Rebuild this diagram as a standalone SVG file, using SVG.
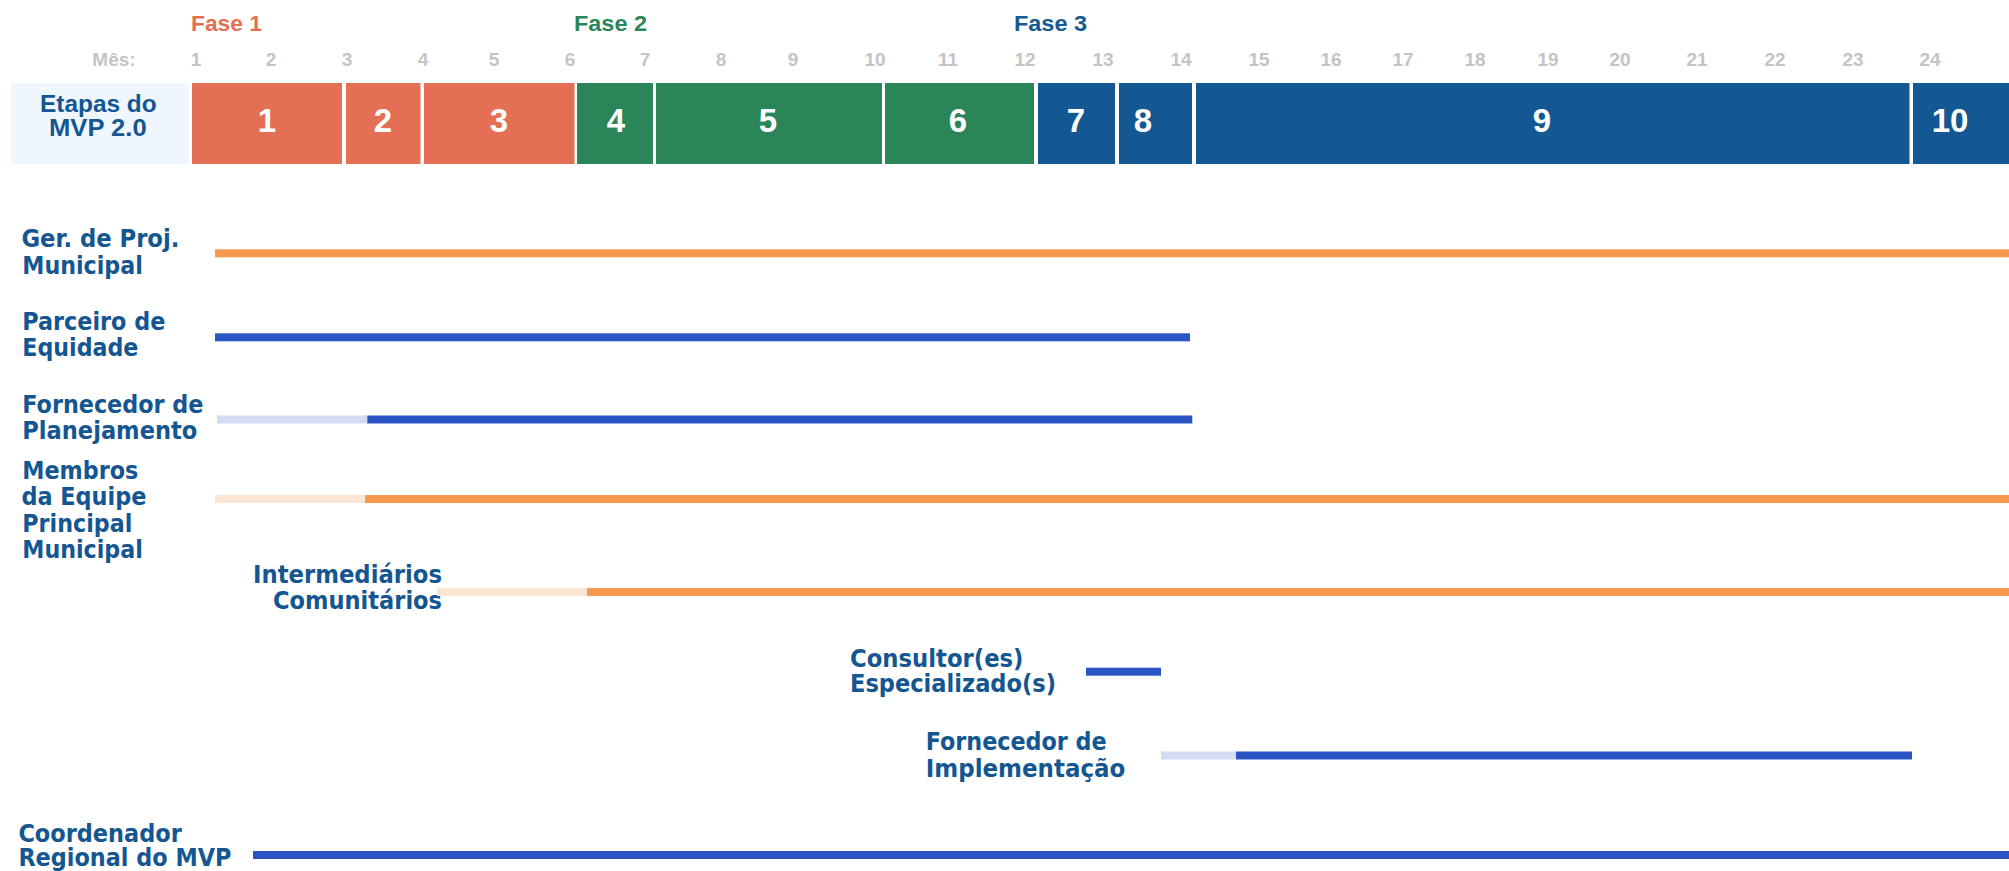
<svg xmlns="http://www.w3.org/2000/svg" width="2009" height="871" viewBox="0 0 2009 871">
<style>
.hd{font-family:"Liberation Sans",Arial,sans-serif;font-weight:bold}
.fase{font-size:22.5px}
.mes{font-size:19px;fill:#c4c4c4;text-anchor:middle}
.num{font-size:33px;fill:#ffffff;text-anchor:middle}
.lbl{font-family:"DejaVu Sans",Verdana,sans-serif;font-weight:bold;font-size:24px;fill:#145691}
.f1{fill:#e56f55}.f2{fill:#2a8659}.f3{fill:#135892}
.or{fill:#f89a4e}.orl{fill:#fde5d3}.bl{fill:#2b55c4}.bll{fill:#d4dcf4}
</style>
<rect width="2009" height="871" fill="#ffffff"/>

<g id="phases" class="hd fase">
<text x="191" y="31" class="f1" textLength="71" lengthAdjust="spacingAndGlyphs">Fase 1</text>
<text x="574" y="31" class="f2" textLength="73" lengthAdjust="spacingAndGlyphs">Fase 2</text>
<text x="1014" y="31" class="f3" textLength="73" lengthAdjust="spacingAndGlyphs">Fase 3</text>
</g>

<g id="months" class="hd mes">
<text x="114" y="66">Mês:</text>
<text x="196" y="66">1</text>
<text x="271" y="66">2</text>
<text x="347" y="66">3</text>
<text x="423" y="66">4</text>
<text x="494" y="66">5</text>
<text x="570" y="66">6</text>
<text x="645" y="66">7</text>
<text x="721" y="66">8</text>
<text x="793" y="66">9</text>
<text x="875" y="66">10</text>
<text x="948" y="66">11</text>
<text x="1025" y="66">12</text>
<text x="1103" y="66">13</text>
<text x="1181" y="66">14</text>
<text x="1259" y="66">15</text>
<text x="1331" y="66">16</text>
<text x="1403" y="66">17</text>
<text x="1475" y="66">18</text>
<text x="1548" y="66">19</text>
<text x="1620" y="66">20</text>
<text x="1697" y="66">21</text>
<text x="1775" y="66">22</text>
<text x="1853" y="66">23</text>
<text x="1930" y="66">24</text>
</g>

<g id="etapas-label">
<rect x="11" y="83" width="178" height="81" fill="#f0f6fe"/>
<text class="hd" x="40" y="111.5" font-size="24.5" fill="#145691" textLength="116.7" lengthAdjust="spacingAndGlyphs">Etapas do</text>
<text class="hd" x="49" y="136" font-size="24.5" fill="#145691" textLength="97.7" lengthAdjust="spacingAndGlyphs">MVP 2.0</text>
</g>

<g id="stage-1"><rect x="192" y="83" width="150" height="81" class="f1"/><text class="hd num" x="267" y="132">1</text></g>
<g id="stage-2"><rect x="346" y="83" width="74.5" height="81" class="f1"/><text class="hd num" x="383" y="132">2</text></g>
<g id="stage-3"><rect x="424" y="83" width="150.5" height="81" class="f1"/><text class="hd num" x="499" y="132">3</text></g>
<g id="stage-4"><rect x="577" y="83" width="76" height="81" class="f2"/><text class="hd num" x="616" y="132">4</text></g>
<g id="stage-5"><rect x="656" y="83" width="226" height="81" class="f2"/><text class="hd num" x="768" y="132">5</text></g>
<g id="stage-6"><rect x="885" y="83" width="149" height="81" class="f2"/><text class="hd num" x="958" y="132">6</text></g>
<g id="stage-7"><rect x="1038" y="83" width="77" height="81" class="f3"/><text class="hd num" x="1076" y="132">7</text></g>
<g id="stage-8"><rect x="1119" y="83" width="73" height="81" class="f3"/><text class="hd num" x="1143" y="132">8</text></g>
<g id="stage-9"><rect x="1196" y="83" width="713.5" height="81" class="f3"/><text class="hd num" x="1542" y="132">9</text></g>
<g id="stage-10"><rect x="1913" y="83" width="96" height="81" class="f3"/><text class="hd num" x="1950" y="132">10</text></g>

<g id="row-ger-proj">
<text class="lbl" x="21.4" y="247" textLength="158" lengthAdjust="spacingAndGlyphs">Ger. de Proj.</text>
<text class="lbl" x="22.3" y="273.5" textLength="120.5" lengthAdjust="spacingAndGlyphs">Municipal</text>
<rect x="215" y="249.3" width="1794" height="8" class="or"/>
</g>

<g id="row-parceiro">
<text class="lbl" x="22.3" y="330" textLength="143" lengthAdjust="spacingAndGlyphs">Parceiro de</text>
<text class="lbl" x="22.3" y="356" textLength="116" lengthAdjust="spacingAndGlyphs">Equidade</text>
<rect x="215" y="333.3" width="975" height="8" class="bl"/>
</g>

<g id="row-fornecedor-plan">
<text class="lbl" x="22.3" y="412.7" textLength="181" lengthAdjust="spacingAndGlyphs">Fornecedor de</text>
<text class="lbl" x="22.3" y="439" textLength="175" lengthAdjust="spacingAndGlyphs">Planejamento</text>
<rect x="217" y="415.5" width="150.3" height="8" class="bll"/>
<rect x="367.3" y="415.5" width="825" height="8" class="bl"/>
</g>

<g id="row-membros">
<text class="lbl" x="22.3" y="478.7" textLength="116" lengthAdjust="spacingAndGlyphs">Membros</text>
<text class="lbl" x="21.4" y="505" textLength="125" lengthAdjust="spacingAndGlyphs">da Equipe</text>
<text class="lbl" x="22.3" y="531.7" textLength="110" lengthAdjust="spacingAndGlyphs">Principal</text>
<text class="lbl" x="22.3" y="558" textLength="120.5" lengthAdjust="spacingAndGlyphs">Municipal</text>
<rect x="215" y="495" width="150" height="8" class="orl"/>
<rect x="365" y="495" width="1644" height="8" class="or"/>
</g>

<g id="row-intermediarios">
<text class="lbl" x="253" y="583" textLength="189" lengthAdjust="spacingAndGlyphs">Intermediários</text>
<text class="lbl" x="273" y="609" textLength="169" lengthAdjust="spacingAndGlyphs">Comunitários</text>
<rect x="437" y="588" width="150" height="8" class="orl"/>
<rect x="587" y="588" width="1422" height="8" class="or"/>
</g>

<g id="row-consultor">
<text class="lbl" x="850" y="666.7" textLength="173.5" lengthAdjust="spacingAndGlyphs">Consultor(es)</text>
<text class="lbl" x="850" y="691.7" textLength="206" lengthAdjust="spacingAndGlyphs">Especializado(s)</text>
<rect x="1086" y="667.7" width="75" height="8" class="bl"/>
</g>

<g id="row-fornecedor-impl">
<text class="lbl" x="925.7" y="750" textLength="181" lengthAdjust="spacingAndGlyphs">Fornecedor de</text>
<text class="lbl" x="925.7" y="776.7" textLength="199.7" lengthAdjust="spacingAndGlyphs">Implementação</text>
<rect x="1161" y="751.5" width="75" height="8" class="bll"/>
<rect x="1236" y="751.5" width="676" height="8" class="bl"/>
</g>

<g id="row-coordenador">
<text class="lbl" x="18.4" y="842" textLength="163.4" lengthAdjust="spacingAndGlyphs">Coordenador</text>
<text class="lbl" x="18.4" y="866" textLength="213" lengthAdjust="spacingAndGlyphs">Regional do MVP</text>
<rect x="253" y="851" width="1756" height="8" class="bl"/>
</g>
</svg>
